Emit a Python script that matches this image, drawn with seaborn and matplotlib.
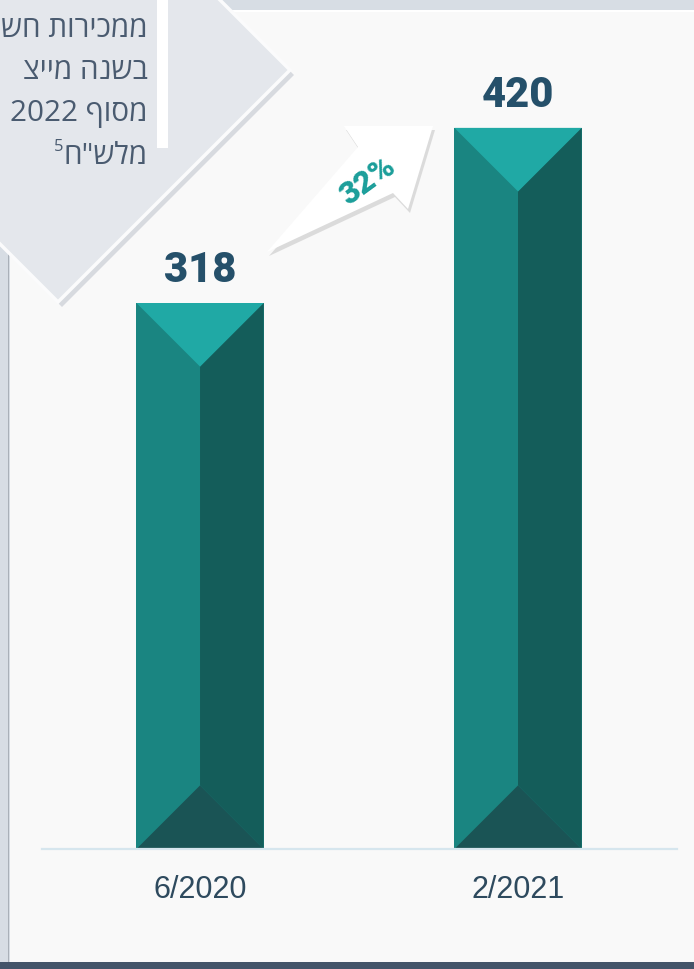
import matplotlib
matplotlib.use("Agg")
import matplotlib.pyplot as plt
import seaborn as sns
import numpy as np
import pandas as pd
from matplotlib.patches import Polygon, Rectangle

# ---------------- data ----------------
categories = ["6/2020", "2/2021"]
values = [318, 420]
value_labels = ["318", "420"]
growth_label = "32%"
note_lines = ["ממכירות חש", "בשנה מייצ", "מסוף 2022", 'מלש"ח']
note_sup = "5"

# ---------------- style ----------------
sns.set_style("white")
plt.rcParams["font.family"] = ["Liberation Sans", "DejaVu Sans"]

W, H = 694, 969
fig = plt.figure(figsize=(W / 100, H / 100), dpi=100)
fig.patch.set_facecolor("#d7dde4")


def px(x, y):
    return (x / W, 1 - y / H)


def fig_poly(pts, **kw):
    p = Polygon([px(x, y) for x, y in pts], closed=True, transform=fig.transFigure, **kw)
    fig.add_artist(p)
    return p


def visual(s):
    """Convert logical RTL Hebrew text to visual (left-to-right) order."""
    r = s[::-1]
    out, i = [], 0
    while i < len(r):
        if r[i].isdigit():
            j = i
            while j < len(r) and r[j].isdigit():
                j += 1
            out.append(r[i:j][::-1])
            i = j
        else:
            out.append(r[i])
            i += 1
    return "".join(out)


# background panels
fig.add_artist(Rectangle(px(10, 962), 684 / W, 951 / H, transform=fig.transFigure,
                         facecolor="#f9f9f9", edgecolor="none", zorder=-10))
fig.add_artist(Rectangle(px(0, 969), 1, 7 / H, transform=fig.transFigure,
                         facecolor="#435469", edgecolor="none", zorder=-9))
fig.add_artist(Rectangle(px(8, 962), 1.2 / W, 962 / H, transform=fig.transFigure,
                         facecolor="#a9b0b8", edgecolor="none", zorder=-9))
fig.add_artist(Rectangle(px(10, 11.5), 684 / W, 1.5 / H, transform=fig.transFigure,
                         facecolor="#ffffff", edgecolor="none", zorder=-9))

# diamond card (top-left)
diamond = [(290, 70), (58, 302), (-200, 44), (32, -188)]
fig_poly([(x + 4, y + 5) for x, y in diamond], facecolor="#c9ced5", edgecolor="none",
         alpha=0.7, zorder=-6)
fig_poly(diamond, facecolor="#e4e7ec", edgecolor="#fbfbfc", linewidth=2.5, zorder=-5)
fig.add_artist(Rectangle(px(157, 148), 11 / W, 148 / H, transform=fig.transFigure,
                         facecolor="#ffffff", edgecolor="none", zorder=-4))

# ---------------- axes & bars ----------------
ymax = 480
ppu = 546 / 318  # pixels per unit
ax = fig.add_axes([42 / W, 120 / H, 635 / W, ymax * ppu / H])
ax.set_facecolor("none")
df = pd.DataFrame({"period": categories, "value": values})
sns.barplot(data=df, x="period", y="value", color="#1a8581", saturation=1,
            width=0.4, linewidth=0, ax=ax)
ax.set_xlim(-0.497, 1.5)
ax.set_ylim(0, ymax)

fig.canvas.draw()
d0, d1 = ax.transData.transform([(0, 0), (1, 1)])
sx, sy = d1 - d0

for p, lab in zip(ax.patches, value_labels):
    x0, w, h = p.get_x(), p.get_width(), p.get_height()
    xc = x0 + w / 2
    dep = (w / 2 * sx) / sy
    # right face
    ax.add_patch(Polygon([(xc, dep), (xc, h - dep), (x0 + w, h), (x0 + w, 0)],
                         facecolor="#145d5a", edgecolor="none", zorder=3))
    # top bevel
    ax.add_patch(Polygon([(x0, h), (x0 + w, h), (xc, h - dep)],
                         facecolor="#20a9a5", edgecolor="none", zorder=4))
    # bottom bevel
    ax.add_patch(Polygon([(x0, 0), (x0 + w, 0), (xc, dep)],
                         facecolor="#1a5455", edgecolor="none", zorder=4))
    ax.annotate(lab, xy=(xc, h), xytext=(0, 15.3), textcoords="offset points",
                ha="center", va="baseline", fontsize=30, fontweight="black",
                family=["Roboto", "DejaVu Sans"], color="#25506a", zorder=6)

ax.set_xlabel("")
ax.set_ylabel("")
ax.set_yticks([])
for s in ["top", "left", "right"]:
    ax.spines[s].set_visible(False)
ax.spines["bottom"].set_color("#d6e6ee")
ax.spines["bottom"].set_linewidth(1.6)
ax.spines["bottom"].set_zorder(5)
ax.tick_params(axis="x", length=0, pad=19, labelsize=22, labelcolor="#2e4a5e")

# ---------------- growth arrow ----------------
arrow = [(267, 252), (358, 147), (344, 126), (433, 126), (408, 209), (393, 193)]
fig_poly([(x + 2, y + 4) for x, y in arrow], facecolor="#c8c8c8", edgecolor="none",
         alpha=0.6, zorder=4)
fig_poly(arrow, facecolor="#ffffff", edgecolor="none", zorder=5)
fig.text(*px(368, 181), growth_label, rotation=36, ha="center", va="center",
         fontsize=23, fontweight="black", family=["Roboto", "DejaVu Sans"],
         color="#1b9e9a", zorder=6)

# ---------------- note text ----------------
baselines = [37, 79, 121, 164]
last = None
for line, yb in zip(note_lines, baselines):
    last = fig.text(*px(148, yb), visual(line), ha="right", va="baseline",
                    fontsize=21.3, family=["Open Sans", "DejaVu Sans"],
                    color="#4a5b70", zorder=6)
ax.annotate(note_sup, xy=(0, 0.55), xycoords=last, ha="right", va="bottom",
            fontsize=12, family=["Open Sans", "DejaVu Sans"], color="#4a5b70",
            annotation_clip=False, zorder=6)

fig.savefig("out.png", dpi=100)
